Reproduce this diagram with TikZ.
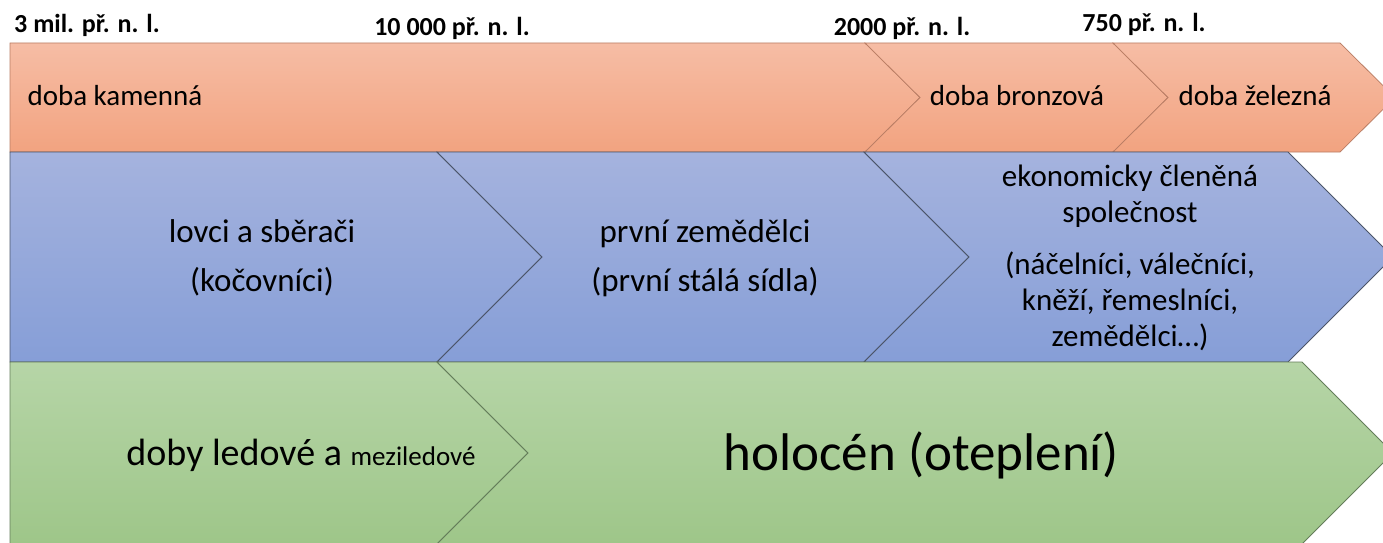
\documentclass[tikz,border=0pt]{standalone}
\usepackage{fontspec}
\setmainfont{Carlito}
\usepackage{xcolor}
\usetikzlibrary{positioning}

\definecolor{stoneTop}{RGB}{246,189,165}
\definecolor{stoneBot}{RGB}{242,163,128}
\definecolor{stoneLine}{RGB}{185,125,100}
\definecolor{societyTop}{RGB}{165,179,222}
\definecolor{societyBot}{RGB}{134,158,215}
\definecolor{societyLine}{RGB}{75,85,105}
\definecolor{climateTop}{RGB}{182,213,167}
\definecolor{climateBot}{RGB}{158,198,137}
\definecolor{climateLine}{RGB}{100,125,90}

\begin{document}
\begin{tikzpicture}[
			x=1pt, y=1pt,
			date_node/.style={
				font=\bfseries\fontsize{26}{30}\selectfont,
				anchor=base
			},
			stone_shape/.style={
				top color=stoneTop,
				bottom color=stoneBot,
				draw=stoneLine,
				line width=0.75pt
			},
			society_shape/.style={
				top color=societyTop,
				bottom color=societyBot,
				draw=societyLine,
				line width=0.75pt
			},
			climate_shape/.style={
				top color=climateTop,
				bottom color=climateBot,
				draw=climateLine,
				line width=0.75pt
			},
			stone_text/.style={
				font=\fontsize{29}{35}\selectfont,
				anchor=base
			},
			society_text/.style={
				font=\fontsize{33}{49}\selectfont,
				align=center
			}
			]
			
			\clip (0,0) rectangle (1383,542);
			
			% Dates
			
			\node [date_node] (D0) at (87,509) {3 mil. př. n. l.};
			\node [date_node] (D1) at (452,506) {10 000 př. n. l.};
			\node [date_node] (D2) at (902,506) {2000 př. n. l.};
			\node [date_node] (D3) at (1144,510) {750 př. n. l.};
			
			% Stone, bronze, iron
			
			\path [stone_shape] (10,499) -- (865,499) -- (920,444.5) -- (865,390) -- (10,390) -- cycle;
			\path [stone_shape] (865,499) -- (1113,499) -- (1168,444.5) -- (1113,390) -- (865,390) -- (920,444.5) -- cycle;
			\path [stone_shape] (1113,499) -- (1340,499) -- (1395,444.5) -- (1340,390) -- (1113,390) -- (1168,444.5) -- cycle;
			
			\node [stone_text, anchor=base west] (kamenna) at (24,436) {doba kamenná};
			\node [stone_text] (bronzova) at (1017,436) {doba bronzová};
			\node [stone_text] (zelezna) at (1255,436) {doba železná};
			
			% Society
			
			\path [society_shape] (10,390) -- (437,390) -- (542,285) -- (437,180) -- (10,180) -- cycle;
			\path [society_shape] (437,390) -- (864,390) -- (969,285) -- (864,180) -- (437,180) -- (542,285) -- cycle;
			\path [society_shape] (864,390) -- (1288,390) -- (1393,285) -- (1288,180) -- (864,180) -- (969,285) -- cycle;
			
			\node [society_text] (lovci) at (262,284) {lovci a sběrači\\(kočovníci)};
			\node [society_text] (zemedelci) at (705,284) {první zemědělci\\(první stálá sídla)};
			\node [society_text, font=\fontsize{31}{36}\selectfont] (spolecnost) at (1130,284)
				{ekonomicky členěná\\společnost\\[16pt](náčelníci, válečníci,\\kněží, řemeslníci,\\zemědělci…)};
			
			% Climate
			
			\path [climate_shape] (10,180) -- (437,180) -- (528,89) -- (437,-2) -- (10,-2) -- cycle;
			\path [climate_shape] (437,180) -- (1302,180) -- (1393,89) -- (1302,-2) -- (437,-2) -- (528,89) -- cycle;
			
			\node [stone_text, font=\fontsize{38}{44}\selectfont] (ledove) at (301,77)
				{doby ledové a {\fontsize{27}{32}\selectfont meziledové}};
			\node [stone_text, font=\fontsize{53}{60}\selectfont] (holocen) at (921,72) {holocén (oteplení)};
			
		\end{tikzpicture}
\end{document}
